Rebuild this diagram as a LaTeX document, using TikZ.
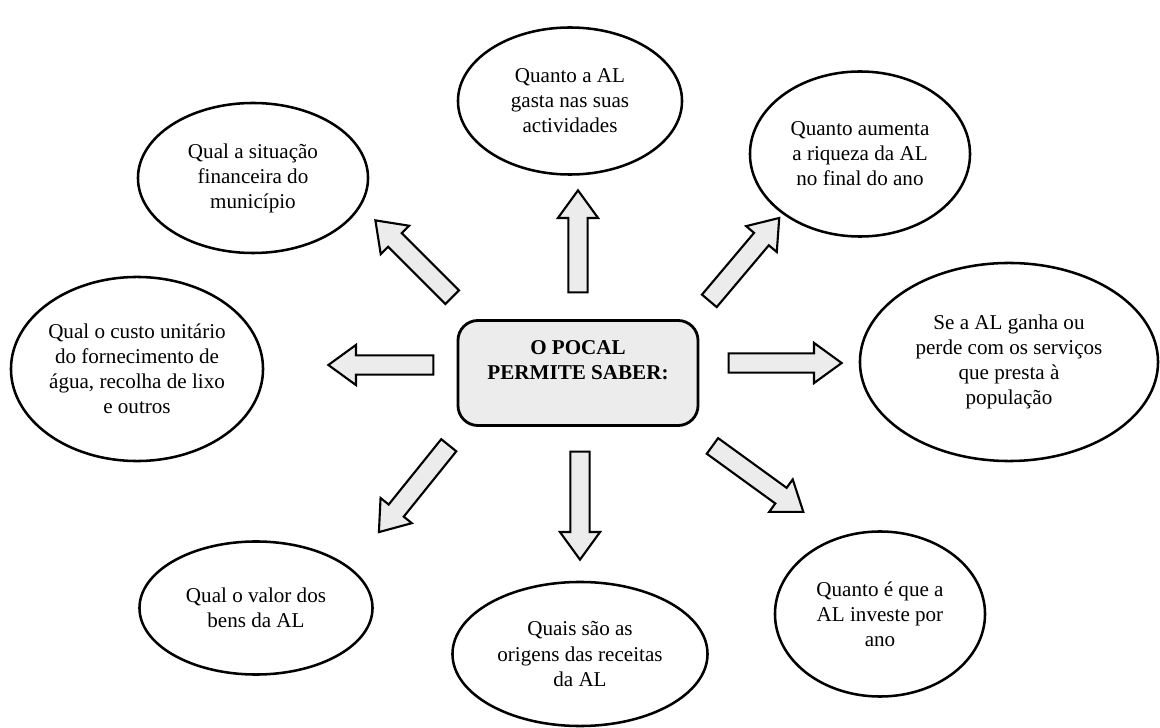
\documentclass[tikz,border=0pt]{standalone}
\usepackage{fontspec}
\setmainfont{Liberation Serif}
\usetikzlibrary{shapes.geometric,shapes.arrows,calc}

\tikzset{
  question/.style={ellipse, draw, line width=1.8pt, inner sep=0pt, align=center,
    font=\fontsize{15pt}{17.8pt}\selectfont},
  pocalbox/.style={draw, rounded corners=0.5cm, line width=2pt, fill=gray!15,
    align=center, minimum width=6cm, minimum height=2.625cm,
    font=\fontsize{15pt}{17.8pt}\selectfont\bfseries},
  blockarrow/.style={single arrow, draw, line width=1.5pt, fill=gray!15,
    inner xsep=0pt, inner ysep=0.215cm, single arrow head extend=0.26cm,
    single arrow tip angle=72}
}

% block arrow from a tail coordinate to a tip coordinate
\newcommand{\blockarrow}[2]{%
  \path let \p1=($(#2)-(#1)$) in
    node[blockarrow, minimum height={veclen(\x1,\y1)}, rotate={atan2(\y1,\x1)}]
    at ($(#1)!0.5!(#2)$) {};}

\begin{document}
\begin{tikzpicture}[x=0.025cm, y=-0.025cm]
  \useasboundingbox (0,0) rectangle (1160,728);

  % Centre box
  \node[pocalbox] (pocal) at (578,373) {O POCAL\\PERMITE SABER:\\~};

  % Questions, clockwise from the top
  \node[question, minimum width=5.6cm, minimum height=3.675cm] (gasto) at (570,101)
    {Quanto a AL\\gasta nas suas\\actividades};
  \node[question, minimum width=5.5cm, minimum height=4.125cm] (riqueza) at (860,154)
    {Quanto aumenta\\a riqueza da AL\\no final do ano};
  \node[question, minimum width=7.45cm, minimum height=4.95cm] (servicos) at (1009,362)
    {Se a AL ganha ou\\perde com os serviços\\que presta à\\população};
  \node[question, minimum width=5.25cm, minimum height=4.125cm] (investe) at (880,614)
    {Quanto é que a\\AL investe por\\ano};
  \node[question, minimum width=6.375cm, minimum height=3.6cm] (receitas) at (580,654)
    {Quais são as\\origens das receitas\\da AL};
  \node[question, minimum width=5.825cm, minimum height=3.325cm] (bens) at (256,608)
    {Qual o valor dos\\bens da AL};
  \node[question, minimum width=6.3cm, minimum height=4.6cm] (custo) at (137,369)
    {Qual o custo unitário\\do fornecimento de\\água, recolha de lixo\\e outros};
  \node[question, minimum width=5.75cm, minimum height=3.75cm] (situacao) at (253,178)
    {Qual a situação\\financeira do\\município};

  % Arrows
  \foreach \dir/\tx/\ty/\hx/\hy in {up/578/299/578/197, upright/705/306/775/223,
      right/722/363/835/363, downright/707/442/798/508, down/580/445/580/553,
      downleft/453/440/383/527, left/440/365/335/365, upleft/457/302/380/225}{
    \coordinate (\dir-tail) at (\tx,\ty);
    \coordinate (\dir-tip) at (\hx,\hy);
    \blockarrow{\dir-tail}{\dir-tip}
  }
\end{tikzpicture}
\end{document}
